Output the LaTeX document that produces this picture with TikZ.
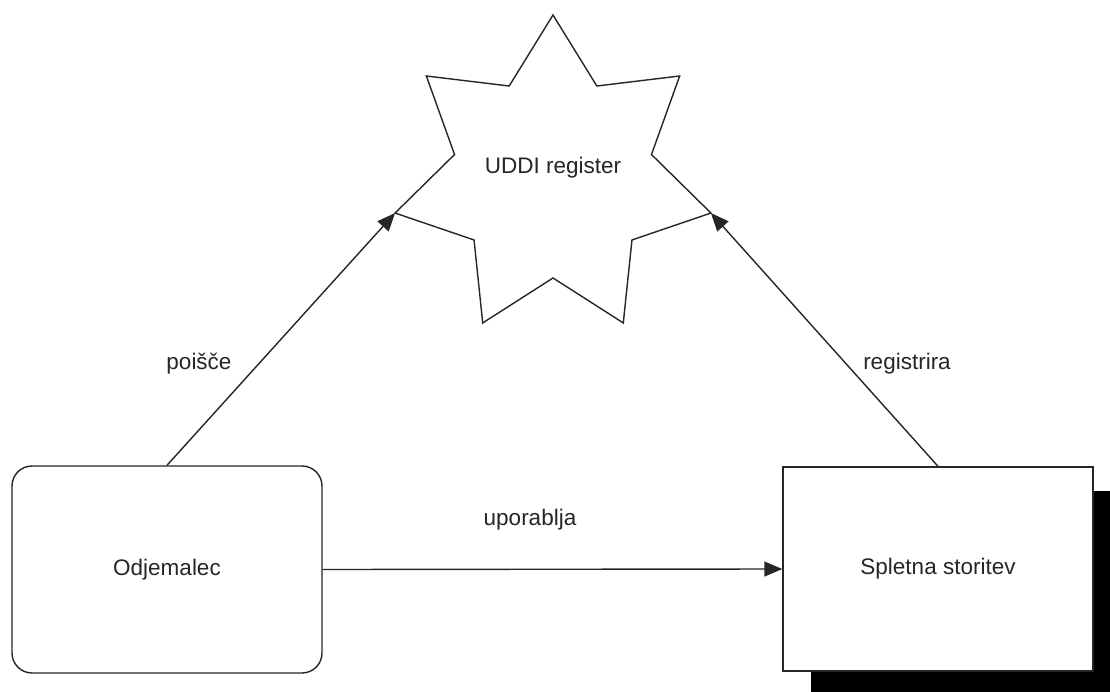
\documentclass[tikz,border=0pt]{standalone}
\usepackage{fontspec}
\setmainfont{Liberation Sans}
\usetikzlibrary{arrows.meta}
\begin{document}
\begin{tikzpicture}[x=1pt, y=-1pt,
  every node/.style={font=\fontsize{22.5}{27}\selectfont, text=black!85},
  outline/.style={draw=black!85, line width=1.4pt},
  clientbox/.style={outline, fill=white, rounded corners=20pt, minimum width=310pt, minimum height=207pt},
  servicebox/.style={outline, fill=white, minimum width=310pt, minimum height=204pt},
  arr/.style={draw=black!85, line width=1.4pt, -{Triangle[length=18pt, width=15pt]}},
  lbl/.style={inner sep=0pt}]
\useasboundingbox (0,0) rectangle (1110,692);
\fill[white] (0,0) rectangle (1110,692);

% drop shadow of the service box, cut at the picture edge
\begin{scope}
  \clip (0,0) rectangle (1110,692);
  \fill[black] (811,491) rectangle (1125,700);
\end{scope}

% seven-pointed star of the registry
\begin{scope}[shift={(553,177)}]
  \draw[outline, line join=miter]
    (90:162pt)
    \foreach \k in {0,...,6} {
      -- ({90+\k*360/7+360/14}:101pt) -- ({90+(\k+1)*360/7}:162pt)
    } -- cycle;
  \coordinate (tipL) at ({90+2*360/7}:162pt);
  \coordinate (tipR) at ({90+5*360/7}:162pt);
\end{scope}
\node (uddi) at (553,168) {UDDI register};

% actors
\node[clientbox] (client) at (167,569.5) {Odjemalec};
\node[servicebox] (service) at (938,569) {Spletna storitev};

% connectors
\draw[arr] (client.north) -- (tipL);
\draw[arr] (service.north) -- (tipR);
\draw[arr] (client.east) -- (service.west);

% connector labels
\node[lbl] (lfind) at (199,364) {poišče};
\node[lbl] (lreg) at (907,364) {registrira};
\node[lbl] (luse) at (530,520) {uporablja};
\end{tikzpicture}
\end{document}
